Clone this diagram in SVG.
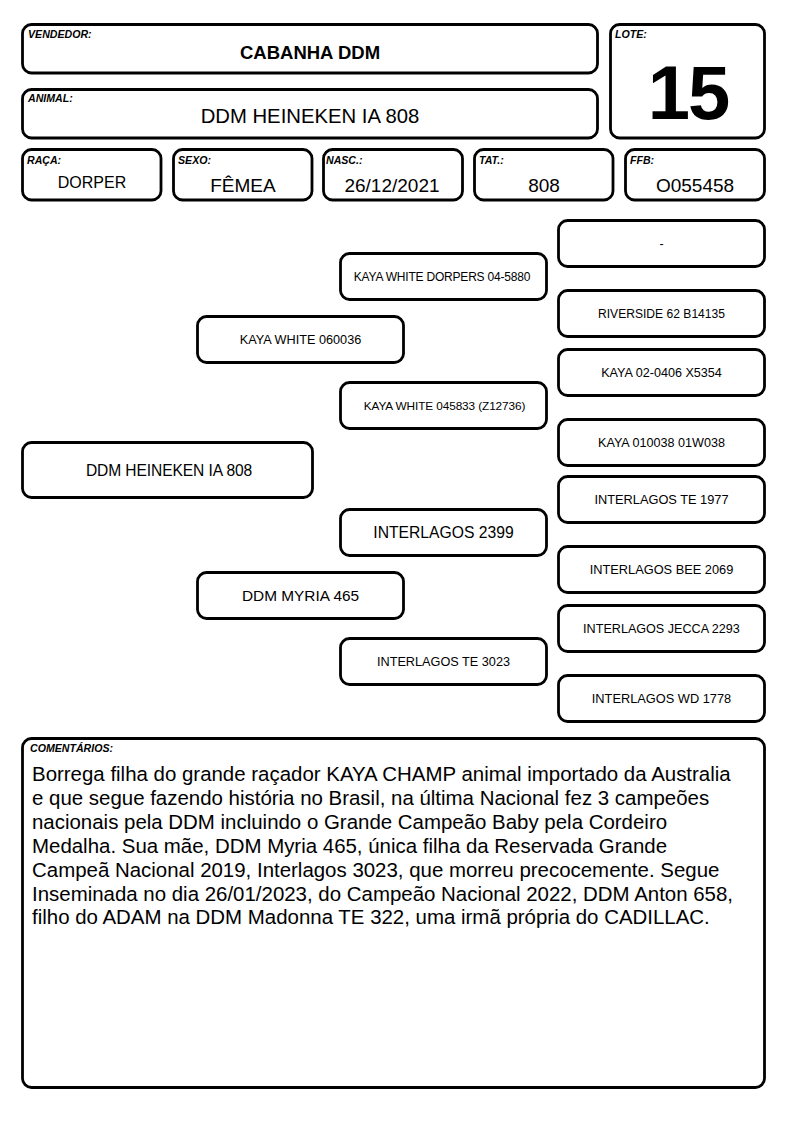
<svg xmlns="http://www.w3.org/2000/svg" width="794" height="1123" viewBox="0 0 794 1123">
<style>
.b{fill:#fff;stroke:#000;stroke-width:2.8}
.l{font-family:"Liberation Sans",Arial,sans-serif;font-weight:bold;font-style:italic;font-size:10.6px;fill:#000}
.t{font-family:"Liberation Sans",Arial,sans-serif;fill:#000;text-anchor:middle}
.c{font-family:"Liberation Sans",Arial,sans-serif;fill:#000;font-size:20.45px}
</style>
<rect width="794" height="1123" fill="#fff"/>
<g id="vendedor"><rect class="b" x="22.5" y="24.5" width="575" height="48.5" rx="9"/><text class="l" x="28" y="38">VENDEDOR:</text><text class="t" x="310" y="59" font-size="18.5" font-weight="bold">CABANHA DDM</text></g>
<g id="animal"><rect class="b" x="22.5" y="89.5" width="575" height="48.5" rx="9"/><text class="l" x="28" y="102">ANIMAL:</text><text class="t" x="310" y="123" font-size="20.3">DDM HEINEKEN IA 808</text></g>
<g id="lote"><rect class="b" x="610.5" y="24.5" width="154" height="113.5" rx="9"/><text class="l" x="615" y="38">LOTE:</text><text class="t" x="688" y="119" font-size="76" font-weight="bold" letter-spacing="-2">15</text></g>
<g id="raca"><rect class="b" x="22.5" y="149.5" width="138.5" height="50.5" rx="9"/><text class="l" x="27" y="164">RAÇA:</text><text class="t" x="92" y="188" font-size="16">DORPER</text></g>
<g id="sexo"><rect class="b" x="173.5" y="149.5" width="138.5" height="50.5" rx="9"/><text class="l" x="178" y="164">SEXO:</text><text class="t" x="243" y="192" font-size="19">FÊMEA</text></g>
<g id="nasc"><rect class="b" x="323.5" y="149.5" width="139" height="50.5" rx="9"/><text class="l" x="326" y="164">NASC.:</text><text class="t" x="392" y="192" font-size="19">26/12/2021</text></g>
<g id="tat"><rect class="b" x="474.5" y="149.5" width="138.5" height="50.5" rx="9"/><text class="l" x="479" y="164">TAT.:</text><text class="t" x="544" y="192" font-size="19">808</text></g>
<g id="ffb"><rect class="b" x="625.5" y="149.5" width="139" height="50.5" rx="9"/><text class="l" x="630" y="164">FFB:</text><text class="t" x="695" y="192" font-size="19">O055458</text></g>

<g id="connectors"></g>

<g id="p-dash"><rect class="b" x="558.5" y="220.5" width="206" height="46" rx="9"/><text class="t" x="661.5" y="247.5" font-size="12.5">-</text></g>
<g id="p-kwd"><rect class="b" x="340.5" y="253.5" width="206" height="46" rx="9"/><text class="t" x="442" y="280.5" font-size="12" letter-spacing="-0.2">KAYA WHITE DORPERS 04-5880</text></g>
<g id="p-riverside"><rect class="b" x="558.5" y="290.5" width="206" height="46" rx="9"/><text class="t" x="661.5" y="317.5" font-size="12.1">RIVERSIDE 62 B14135</text></g>
<g id="p-kw060036"><rect class="b" x="197.5" y="316.5" width="206" height="46" rx="9"/><text class="t" x="300.5" y="344" font-size="12.7">KAYA WHITE 060036</text></g>
<g id="p-kaya02"><rect class="b" x="558.5" y="349.5" width="206" height="46" rx="9"/><text class="t" x="661.5" y="377" font-size="12.6">KAYA 02-0406 X5354</text></g>
<g id="p-kw045833"><rect class="b" x="340.5" y="382.5" width="206" height="46" rx="9"/><text class="t" x="444.5" y="409.5" font-size="11.8" letter-spacing="-0.1">KAYA WHITE 045833 (Z12736)</text></g>
<g id="p-kaya010038"><rect class="b" x="558.5" y="419.5" width="206" height="46" rx="9"/><text class="t" x="661.5" y="447" font-size="12.6">KAYA 010038 01W038</text></g>
<g id="p-subject"><rect class="b" x="22.5" y="442.5" width="290" height="55" rx="9"/><text class="t" x="169" y="475.5" font-size="15.6" letter-spacing="-0.1">DDM HEINEKEN IA 808</text></g>
<g id="p-te1977"><rect class="b" x="558.5" y="476.5" width="206" height="46" rx="9"/><text class="t" x="661.5" y="503.5" font-size="12.8">INTERLAGOS TE 1977</text></g>
<g id="p-2399"><rect class="b" x="340.5" y="509.5" width="206" height="46" rx="9"/><text class="t" x="443.5" y="538" font-size="15.7">INTERLAGOS 2399</text></g>
<g id="p-bee2069"><rect class="b" x="558.5" y="546.5" width="206" height="46" rx="9"/><text class="t" x="661.5" y="573.5" font-size="12.8">INTERLAGOS BEE 2069</text></g>
<g id="p-myria"><rect class="b" x="197.5" y="572.5" width="206" height="46" rx="9"/><text class="t" x="300.5" y="601" font-size="15.4">DDM MYRIA 465</text></g>
<g id="p-jecca"><rect class="b" x="558.5" y="605.5" width="206" height="46" rx="9"/><text class="t" x="661.5" y="632.5" font-size="12.6">INTERLAGOS JECCA 2293</text></g>
<g id="p-te3023"><rect class="b" x="340.5" y="638.5" width="206" height="46" rx="9"/><text class="t" x="443.5" y="665.5" font-size="12.7">INTERLAGOS TE 3023</text></g>
<g id="p-wd1778"><rect class="b" x="558.5" y="675.5" width="206" height="46" rx="9"/><text class="t" x="661.5" y="702.5" font-size="12.8">INTERLAGOS WD 1778</text></g>

<g id="comentarios"><rect class="b" x="22.5" y="738.5" width="742" height="349" rx="9"/><text class="l" x="30" y="752" font-size="10.9px">COMENTÁRIOS:</text>
<text class="c" x="32"><tspan x="32" y="781">Borrega filha do grande raçador KAYA CHAMP animal importado da Australia</tspan><tspan x="32" y="804.9">e que segue fazendo história no Brasil, na última Nacional fez 3 campeões</tspan><tspan x="32" y="828.8">nacionais pela DDM incluindo o Grande Campeão Baby pela Cordeiro</tspan><tspan x="32" y="852.7">Medalha. Sua mãe, DDM Myria 465, única filha da Reservada Grande</tspan><tspan x="32" y="876.6">Campeã Nacional 2019, Interlagos 3023, que morreu precocemente. Segue</tspan><tspan x="32" y="900.5">Inseminada no dia 26/01/2023, do Campeão Nacional 2022, DDM Anton 658,</tspan><tspan x="32" y="924.4">filho do ADAM na DDM Madonna TE 322, uma irmã própria do CADILLAC.</tspan></text></g>
</svg>
